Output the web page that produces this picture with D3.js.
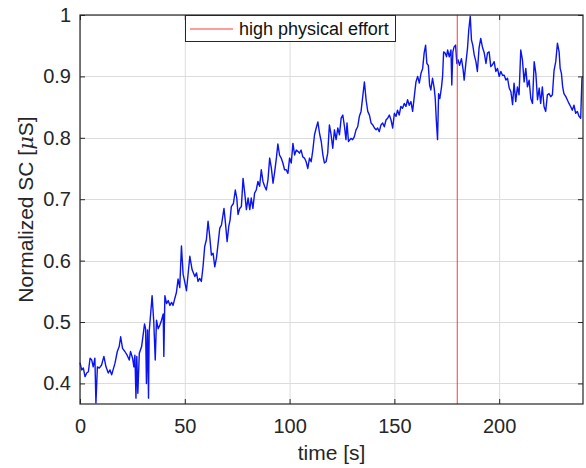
<!DOCTYPE html>
<html><head><meta charset="utf-8">
<script src="https://cdn.jsdelivr.net/npm/d3@7"></script>
<style>html,body{margin:0;padding:0;background:#fff}svg{display:block}</style>
</head><body><svg id="c" width="586" height="468"></svg>
<script>
const timeS = [0.0,0.8,1.6,2.4,3.2,4.0,4.8,5.6,6.3,7.1,7.6,8.3,9.2,10.3,11.4,12.4,13.5,14.3,15.1,16.7,17.8,18.7,19.4,20.3,21.4,22.5,23.5,24.1,25.1,25.7,26.2,26.7,27.1,27.6,28.3,29.4,30.2,30.8,31.3,31.7,32.2,32.7,33.0,33.7,34.4,35.2,35.9,36.5,37.3,38.1,38.9,39.7,40.0,40.5,41.3,42.1,42.9,43.7,44.4,45.2,46.0,46.8,47.6,48.4,49.2,50.0,50.8,52.4,53.5,54.8,55.6,56.3,57.1,57.9,58.7,59.5,60.3,61.1,61.9,62.7,63.5,64.3,65.1,65.9,66.7,67.5,68.7,69.4,70.2,71.0,71.6,72.2,73.2,74.1,74.8,75.4,76.2,77.0,77.8,78.6,79.4,80.2,81.0,81.7,82.5,83.3,84.1,84.9,85.7,86.5,87.3,88.1,88.9,89.7,90.5,91.3,92.1,92.9,93.7,94.4,95.2,96.0,96.8,97.6,98.4,99.2,100.0,100.8,101.6,102.4,103.2,104.0,104.7,105.5,106.3,107.1,107.9,108.7,109.5,110.3,111.1,111.9,112.7,113.5,114.3,115.1,115.9,116.6,117.4,118.2,119.0,119.8,120.6,121.4,122.2,123.0,123.8,124.6,125.4,126.2,126.9,127.4,128.1,129.3,130.1,130.9,131.7,132.5,133.3,134.1,134.9,135.7,136.5,137.3,138.1,138.9,139.7,140.5,141.3,142.0,142.8,143.6,144.4,145.2,146.0,146.8,147.6,148.4,149.2,150.0,150.8,151.5,152.3,153.1,153.9,154.7,155.5,156.3,157.1,157.9,158.7,159.5,160.3,161.1,161.9,162.7,163.5,164.2,164.9,165.5,166.2,166.8,167.4,168.2,169.0,169.5,170.0,170.6,171.1,171.7,172.5,173.0,173.5,174.2,174.9,175.4,176.2,177.0,177.4,177.9,178.5,179.2,179.8,180.4,181.1,182.0,182.8,183.3,184.1,184.9,185.5,186.2,186.8,187.4,188.1,188.9,189.6,190.4,191.2,192.0,192.9,193.7,194.4,195.2,196.0,196.8,197.6,198.4,199.2,200.0,200.8,201.6,202.4,203.2,204.0,204.8,205.6,206.4,207.1,207.9,208.7,209.5,210.3,211.1,211.9,212.7,213.5,214.3,215.1,215.9,216.7,217.5,218.3,219.1,219.8,220.6,221.4,222.2,223.0,223.8,224.6,225.4,226.2,227.0,227.8,228.6,229.1,229.7,230.3,230.9,231.8,232.5,233.3,234.1,234.9,235.7,236.5,237.3,238.1,238.9,239.5,239.9];
const scValues = [0.434,0.422,0.425,0.411,0.417,0.419,0.441,0.438,0.427,0.441,0.368,0.427,0.425,0.430,0.444,0.427,0.417,0.422,0.414,0.433,0.452,0.460,0.476,0.457,0.452,0.446,0.438,0.452,0.441,0.427,0.446,0.376,0.444,0.384,0.449,0.460,0.481,0.497,0.489,0.400,0.487,0.376,0.484,0.513,0.543,0.500,0.438,0.503,0.489,0.495,0.503,0.513,0.444,0.543,0.530,0.535,0.527,0.532,0.527,0.538,0.548,0.570,0.556,0.624,0.578,0.565,0.551,0.607,0.585,0.574,0.580,0.566,0.571,0.566,0.590,0.623,0.634,0.664,0.639,0.609,0.612,0.590,0.604,0.628,0.653,0.658,0.685,0.661,0.631,0.656,0.666,0.688,0.693,0.715,0.702,0.675,0.685,0.688,0.734,0.710,0.683,0.702,0.683,0.702,0.685,0.710,0.715,0.729,0.721,0.748,0.729,0.721,0.715,0.732,0.767,0.751,0.726,0.745,0.767,0.790,0.772,0.767,0.759,0.748,0.748,0.742,0.767,0.759,0.791,0.772,0.780,0.778,0.775,0.780,0.769,0.767,0.761,0.750,0.767,0.761,0.780,0.805,0.816,0.826,0.807,0.794,0.772,0.759,0.761,0.775,0.821,0.805,0.783,0.813,0.797,0.816,0.805,0.832,0.837,0.818,0.797,0.824,0.794,0.799,0.797,0.802,0.813,0.818,0.835,0.843,0.867,0.891,0.862,0.843,0.837,0.824,0.821,0.816,0.813,0.816,0.810,0.821,0.824,0.818,0.829,0.832,0.837,0.829,0.816,0.840,0.835,0.845,0.837,0.851,0.848,0.856,0.851,0.862,0.853,0.859,0.843,0.867,0.891,0.900,0.889,0.905,0.913,0.938,0.951,0.921,0.918,0.886,0.878,0.897,0.881,0.864,0.829,0.797,0.872,0.864,0.883,0.900,0.940,0.938,0.932,0.943,0.932,0.943,0.886,0.940,0.948,0.951,0.921,0.927,0.918,0.929,0.911,0.894,0.921,0.946,0.976,0.998,0.959,0.951,0.935,0.924,0.908,0.946,0.962,0.948,0.938,0.921,0.938,0.940,0.916,0.919,0.924,0.908,0.913,0.900,0.908,0.902,0.902,0.894,0.897,0.881,0.875,0.854,0.889,0.859,0.883,0.870,0.943,0.927,0.891,0.913,0.883,0.894,0.864,0.856,0.924,0.905,0.862,0.881,0.856,0.883,0.851,0.843,0.870,0.872,0.867,0.870,0.910,0.924,0.954,0.940,0.913,0.905,0.883,0.872,0.867,0.862,0.856,0.851,0.845,0.853,0.840,0.843,0.835,0.832,0.897,0.900];
const xTicks = [0,50,100,150,200];
const yTicks = [0.4,0.5,0.6,0.7,0.8,0.9,1];
const effortTime = 180;
const legendLabel = "high physical effort";

const svg = d3.select("#c");
const L=80, R=583, T=15, B=404;
const x = d3.scaleLinear().domain([0,240]).range([L,R]);
const y = d3.scaleLinear().domain([0.3665,1]).range([B,T]);
const font = "'Liberation Sans', Arial, Helvetica, sans-serif";
const axisCol = "#262626";

// grid
const g = svg.append("g");
g.selectAll(".gx").data(xTicks).enter().append("line")
  .attr("x1",d=>x(d)+0.5).attr("x2",d=>x(d)+0.5).attr("y1",T).attr("y2",B)
  .attr("stroke","#dcdcdc").attr("stroke-width",1);
g.selectAll(".gy").data(yTicks).enter().append("line")
  .attr("y1",d=>Math.round(y(d))+0.5).attr("y2",d=>Math.round(y(d))+0.5).attr("x1",L).attr("x2",R)
  .attr("stroke","#dcdcdc").attr("stroke-width",1);

// data line
const data = timeS.map((t,i)=>[t,scValues[i]]);
svg.append("path").datum(data)
  .attr("d", d3.line().x(d=>x(d[0])).y(d=>y(d[1])))
  .attr("fill","none").attr("stroke","#0a14f0").attr("stroke-width",1.4).attr("stroke-linejoin","round");

// red line
svg.append("line").attr("x1",x(effortTime)).attr("x2",x(effortTime)).attr("y1",T).attr("y2",B)
  .attr("stroke","#ff3b3b").attr("stroke-width",1);

// axes with inward ticks
const ax = svg.append("g");
const xb = d3.axisBottom(x).tickValues(xTicks).tickSize(-5).tickPadding(15).tickFormat(d3.format("d"));
const yl = d3.axisLeft(y).tickValues(yTicks).tickSize(-5).tickPadding(9).tickFormat(d=>d===1?"1":d3.format(".1f")(d));
const xt = d3.axisTop(x).tickValues(xTicks).tickSize(-5).tickFormat("");
const yr = d3.axisRight(y).tickValues(yTicks).tickSize(-5).tickFormat("");
ax.append("g").attr("transform",`translate(0,${B})`).call(xb);
ax.append("g").attr("transform",`translate(${L},0)`).call(yl);
ax.append("g").attr("transform",`translate(0,${T})`).call(xt);
ax.append("g").attr("transform",`translate(${R},0)`).call(yr);
ax.selectAll(".domain").remove();
ax.selectAll(".tick line").attr("stroke",axisCol);
ax.selectAll(".tick text").attr("fill",axisCol).style("font-family",font).style("font-size","20px");
svg.append("rect").attr("x",L).attr("y",T).attr("width",R-L).attr("height",B-T)
  .attr("fill","none").attr("stroke",axisCol).attr("stroke-width",1.2);

// labels
svg.append("text").attr("x",(L+R)/2).attr("y",460).attr("text-anchor","middle")
  .style("font-family",font).style("font-size","21px").attr("fill",axisCol).text("time [s]");
const yt = svg.append("text").attr("transform",`translate(33,${(T+B)/2}) rotate(-90)`).attr("text-anchor","middle")
  .style("font-family",font).style("font-size","21px").attr("fill",axisCol);
yt.append("tspan").text("Normalized SC [");
yt.append("tspan").style("font-family","'DejaVu Serif', 'Liberation Serif', serif").style("font-style","italic").text("μ");
yt.append("tspan").text("S]");

// legend
const lg = svg.append("g");
lg.append("rect").attr("x",185.5).attr("y",T+0.5).attr("width",210).attr("height",26)
  .attr("fill","#fff").attr("stroke",axisCol).attr("stroke-width",1);
lg.append("line").attr("x1",190).attr("x2",233).attr("y1",T+14).attr("y2",T+14)
  .attr("stroke","#ff3b3b").attr("stroke-width",1);
lg.append("text").attr("x",239).attr("y",T+20).style("font-family",font).style("font-size","18px")
  .attr("fill","#111").text(legendLabel);
</script></body></html>
